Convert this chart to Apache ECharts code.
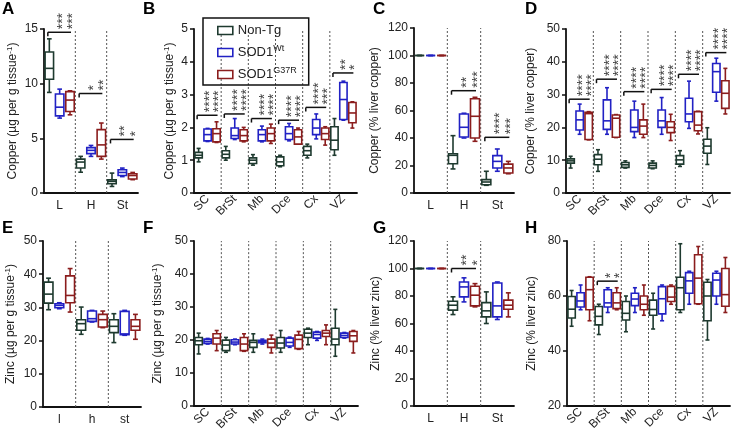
<!DOCTYPE html>
<html><head><meta charset="utf-8">
<script src="https://cdn.jsdelivr.net/npm/echarts@6/dist/echarts.min.js"></script>
<style>html,body{margin:0;padding:0;background:#fff}#c{width:733px;height:433px}</style>
</head><body><div id="c"></div>
<script>
// ---------- categories ----------
const catsLHSt = ['L', 'H', 'St'];
const catsRegions = ['SC', 'BrSt', 'Mb', 'Dce', 'Cx', 'VZ'];
const catsLower = ['l', 'h', 'st'];

// ---------- box data: [min, Q1, median, Q3, max] per category ----------
// A: Copper (µg per g tissue-1), peripheral
const A_nonTg = [[9.2,10.4,11.4,12.9,14.1],[1.9,2.28,2.83,3.1,3.35],[0.6,0.85,1.06,1.2,1.82]];
const A_wt    = [[6.85,7.05,7.85,9.05,9.5],[3.35,3.6,3.9,4.15,4.35],[1.5,1.6,1.88,2.13,2.28]];
const A_g37r  = [[7.15,7.45,8.5,9.27,9.35],[3.1,3.35,4.4,5.8,6.4],[1.22,1.28,1.6,1.76,1.88]];
const A_brackets = [[0,14.7,'***','***'],[1,9.1,'*','**'],[2,4.9,'**','*']];

// B: Copper (µg per g tissue-1), CNS
const B_nonTg = [[0.95,1.07,1.15,1.24,1.36],[1.0,1.07,1.18,1.29,1.42],[0.85,0.9,1.0,1.07,1.17],[0.8,0.83,0.95,1.1,1.15],[1.07,1.15,1.29,1.42,1.49],[1.15,1.32,1.61,2.02,2.27]];
const B_wt    = [[1.57,1.59,1.78,1.95,1.97],[1.63,1.66,1.75,1.98,2.27],[1.56,1.59,1.78,1.93,2.04],[1.59,1.63,1.81,2.02,2.12],[1.65,1.78,1.98,2.24,2.41],[2.22,2.24,2.85,3.37,3.41]];
const B_g37r  = [[1.54,1.56,1.81,1.96,2.17],[1.56,1.59,1.75,1.93,2.0],[1.51,1.59,1.81,1.98,2.1],[1.49,1.49,1.71,1.93,1.98],[1.46,1.63,1.81,1.98,2.02],[1.98,2.14,2.44,2.76,2.78]];
const B_brackets = [[0,2.37,'****','****'],[1,2.41,'****','****'],[2,2.27,'****','****'],[3,2.22,'****','****'],[4,2.61,'****','***'],[5,3.66,'**','*']];

// C: Copper (% liver copper)
const C_nonTg = [[100,100,100,100,100],[17.5,21.3,27.4,28.6,41.7],[5.6,6,8,9.7,15.8]];
const C_wt    = [[100,100,100,100,100],[40,40.7,47.8,57.5,58],[15.8,18.2,23,27.2,32]];
const C_g37r  = [[100,100,100,100,100],[37.6,40,55.8,68.6,69.6],[14,14.5,18.2,21,23]];
const C_brackets = [[1,74.4,'**','***'],[2,40.5,'****','***']];

// D: Copper (% liver copper), CNS
const D_nonTg = [[7.6,9.1,9.8,10.4,11.2],[6.6,8.6,10.3,11.7,13.2],[7.6,7.8,8.6,9.3,9.8],[7.4,7.6,8.4,9.1,9.8],[8.1,8.8,10.1,11.4,12.9],[8.7,12.1,14.3,16.4,19.9]];
const D_wt    = [[17.9,19.2,22.3,25.0,27.1],[17.9,19.4,22.0,28.4,32.1],[16.9,18.7,20.0,25.3,28.0],[17.9,20.0,22.0,25.3,29.1],[19.7,21.7,24.1,28.9,34.1],[28.0,30.7,37.0,39.5,41.1]];
const D_g37r  = [[16.2,16.3,24.2,24.6,24.8],[16.9,17.0,22.8,23.8,23.9],[16.9,17.9,20.4,22.3,27.1],[16.0,18.4,20.0,21.7,24.0],[18.0,19.0,20.7,24.8,24.9],[24.1,25.8,30.4,34.2,38.0]];
const D_brackets = [[0,28.6,'****','****'],[1,34.7,'****','****'],[2,30.9,'****','****'],[3,31.6,'****','****'],[4,36.2,'****','****'],[5,42.8,'****','****']];

// E: Zinc (µg per g tissue-1), peripheral
const E_nonTg = [[29.3,31.3,34,37.6,38.8],[21.9,23.1,25.1,26.3,30.1],[19.4,22.4,24.3,26.3,28.1]];
const E_wt    = [[29.6,29.9,30.6,31.1,31.4],[25.6,25.8,26.6,28.9,29.1],[21.6,21.8,22,28.8,29.1]];
const E_g37r  = [[28.6,31.4,33.6,39.5,41.7],[23.9,24.1,26.3,27.9,28.9],[20.4,23.1,24.3,26.3,27.9]];

// F: Zinc (µg per g tissue-1), CNS
const F_nonTg = [[15.8,18.6,19.8,20.8,22.1],[16.3,16.8,18.5,20,20.8],[16.3,17.8,19.3,19.9,21.9],[16.3,17.6,19.1,20.8,22.9],[18.6,20.8,22.1,23.3,23.6],[15.1,18.6,20.3,23.6,29.3]];
const F_wt    = [[18.8,19,19.6,20.3,20.5],[18.6,18.8,19.4,20.1,20.3],[18.8,19.2,19.6,19.9,20.3],[17.8,18.2,19.3,20.6,20.9],[19.9,20.6,21.7,22.4,22.6],[20.6,20.8,21.4,22.1,22.3]];
const F_g37r  = [[16.8,18.8,20.6,21.9,22.9],[16.6,16.8,18.8,20.8,21.9],[16.1,17.8,19.1,20.3,21.5],[17.2,17.4,20.2,21.5,22.6],[18.6,21.1,22.1,22.9,24.6],[16.1,19.6,21.3,22.6,22.9]];

// G: Zinc (% liver zinc)
const G_nonTg = [[100,100,100,100,100],[66.5,69.7,73.3,76.2,79.4],[60,64.8,69.2,75.2,83]];
const G_wt    = [[100,100,100,100,100],[75.7,79.4,86.6,90.2,93.2],[62.9,64.8,72.8,89.5,90.2]];
const G_g37r  = [[100,100,100,100,100],[72.1,72.8,80.6,87.1,89],[64.8,70.4,73.3,77,82.3]];
const G_brackets = [[1,100,'**','*']];

// H: Zinc (% liver zinc), CNS
const H_nonTg = [[49,52,55.2,59.8,62],[46,49.5,52.6,56.2,57],[47,51.3,53.7,58,60],[48,53,55.1,58.5,61],[54,55,63,66.8,79],[44,51,60,65,66]];
const H_wt    = [[55,56,58.2,61.2,64],[54,56,57.5,62.3,63],[54,56.5,58.9,61,63],[51,53.5,59,63.4,64],[57,61,65.5,68.5,69],[57,60,65.8,68.3,69]];
const H_g37r  = [[51,55,62.3,66.8,67],[55,55.4,57.5,61.2,63],[53,55,57,60,64],[57,58,59.6,63.5,64],[57,57.2,66.5,75,78],[54,56.3,60.5,70,74]];
const H_brackets = [[1,65.4,'*','*']];

// ---------- axis settings ----------
const yA = [0, 15, 5], yB = [0, 5, 1], yC = [0, 120, 20], yD = [0, 50, 10];
const yE = [0, 50, 10], yF = [0, 50, 10], yG = [0, 120, 20], yH = [20, 80, 20];
const nameCuUg = 'Copper (µg per g tissue{s|-1})';
const nameCuPct = 'Copper (% liver copper)';
const nameZnUg = 'Zinc (µg per g tissue{s|-1})';
const nameZnPct = 'Zinc (% liver zinc)';
const groupNames = ['Non-Tg', 'SOD1Wt', 'SOD1G37R'];

// ---------- styling / layout ----------
const FONT = "'Liberation Sans', Arial, Helvetica, sans-serif";
const COLORS = ['#1e3a2f', '#2121c4', '#8b1d1d'];
const OFF = 0.33, BOXW = 0.27;

const panels = [
  {letter:'A', L:[2,1],   g:[44,29,94,164],   cats:catsLHSt,    d:[A_nonTg,A_wt,A_g37r], br:A_brackets, y:yA, name:nameCuUg,  gap:24, rot:0},
  {letter:'B', L:[143,1], g:[194,29,163,164], cats:catsRegions, d:[B_nonTg,B_wt,B_g37r], br:B_brackets, y:yB, name:nameCuUg,  gap:17, rot:45},
  {letter:'C', L:[373,1], g:[414,28,100,165], cats:catsLHSt,    d:[C_nonTg,C_wt,C_g37r], br:C_brackets, y:yC, name:nameCuPct, gap:32, rot:0},
  {letter:'D', L:[525,1], g:[566,29,164,164], cats:catsRegions, d:[D_nonTg,D_wt,D_g37r], br:D_brackets, y:yD, name:nameCuPct, gap:28, rot:45},
  {letter:'E', L:[2,220], g:[43,241,98,166],  cats:catsLower,   d:[E_nonTg,E_wt,E_g37r], br:null,       y:yE, name:nameZnUg,  gap:25, rot:0},
  {letter:'F', L:[143,220], g:[194,241,164,166], cats:catsRegions, d:[F_nonTg,F_wt,F_g37r], br:null,    y:yF, name:nameZnUg,  gap:29, rot:45},
  {letter:'G', L:[373,220], g:[414,241,100,165], cats:catsLHSt,  d:[G_nonTg,G_wt,G_g37r], br:G_brackets, y:yG, name:nameZnPct, gap:31, rot:0},
  {letter:'H', L:[525,220], g:[567,241,163,165], cats:catsRegions, d:[H_nonTg,H_wt,H_g37r], br:H_brackets, y:yH, name:nameZnPct, gap:28, rot:45}
];

function boxRender(off, color) {
  return function (params, api) {
    const xi = api.value(0);
    const band = api.size([1, 0])[0];
    const cx = api.coord([xi, api.value(1)])[0] + off * band;
    const w = band * BOXW, cap = w * 0.55;
    const py = v => api.coord([xi, v])[1];
    const yMin = py(api.value(1)), yQ1 = py(api.value(2)), yMed = py(api.value(3)), yQ3 = py(api.value(4)), yMax = py(api.value(5));
    const st = {stroke: color, lineWidth: 1.6, fill: null};
    return {type: 'group', children: [
      {type: 'line', shape: {x1: cx, y1: yMax, x2: cx, y2: yQ3}, style: st},
      {type: 'line', shape: {x1: cx, y1: yQ1, x2: cx, y2: yMin}, style: st},
      {type: 'line', shape: {x1: cx - cap / 2, y1: yMax, x2: cx + cap / 2, y2: yMax}, style: st},
      {type: 'line', shape: {x1: cx - cap / 2, y1: yMin, x2: cx + cap / 2, y2: yMin}, style: st},
      {type: 'rect', shape: {x: cx - w / 2, y: yQ3, width: w, height: yQ1 - yQ3}, style: {stroke: color, lineWidth: 1.6, fill: '#fff'}},
      {type: 'line', shape: {x1: cx - w / 2, y1: yMed, x2: cx + w / 2, y2: yMed}, style: st}
    ]};
  };
}

function sepRender(params, api) {
  const i = api.value(0);
  const band = api.size([1, 0])[0];
  const p0 = api.coord([i, api.value(1)]);
  const p1 = api.coord([i, api.value(2)]);
  const x = p0[0] + band / 2;
  return {type: 'line', shape: {x1: x, y1: p0[1], x2: x, y2: p1[1]},
    style: {stroke: '#555', lineWidth: 1, lineDash: [2, 2]}};
}

function starText(x, y, s) {
  const fs = 14;
  return {type: 'text', x: x + 3, y: y, rotation: Math.PI / 2,
    style: {text: s, fill: '#444', font: fs + 'px ' + FONT,
      align: 'left', verticalAlign: 'middle', textAlign: 'left', textVerticalAlign: 'middle'}};
}

function bracketRender(brs) {
  return function (params, api) {
    const xi = api.value(0);
    const band = api.size([1, 0])[0];
    const p = api.coord([xi, api.value(1)]);
    const x0 = p[0] - OFF * band - 1.5, x1 = p[0] + OFF * band + 1;
    const y = p[1];
    const b = brs[params.dataIndex];
    return {type: 'group', children: [
      {type: 'line', shape: {x1: x0, y1: y, x2: x1, y2: y}, style: {stroke: '#111', lineWidth: 1.5}},
      {type: 'line', shape: {x1: x0, y1: y, x2: x0, y2: y + 4}, style: {stroke: '#111', lineWidth: 1.5}},
      starText(p[0], y - 3, b[2]),
      starText(p[0] + OFF * band, y - 3, b[3])
    ]};
  };
}

const grids = [], xAxes = [], yAxes = [], series = [], graphics = [];
const nameRich = {s: {fontSize: 8, lineHeight: 8, verticalAlign: 'top', color: '#222', fontFamily: FONT}};

panels.forEach((p, k) => {
  grids.push({left: p.g[0], top: p.g[1], width: p.g[2], height: p.g[3]});
  xAxes.push({type: 'category', gridIndex: k, data: p.cats, boundaryGap: true,
    axisLine: {lineStyle: {color: '#111', width: 1.8}}, axisTick: {show: false},
    axisLabel: {interval: 0, rotate: p.rot, margin: p.rot ? 4 : 7, fontSize: 12, color: '#222', fontFamily: FONT},
    splitLine: {show: false}});
  yAxes.push({type: 'value', gridIndex: k, min: p.y[0], max: p.y[1], interval: p.y[2],
    name: p.name, nameLocation: 'middle', nameGap: p.gap,
    nameTextStyle: {fontSize: 12, color: '#222', fontFamily: FONT, lineHeight: 14, rich: nameRich},
    axisLine: {show: true, lineStyle: {color: '#111', width: 1.8}},
    axisTick: {show: true, length: 4, lineStyle: {color: '#111', width: 1.5}},
    axisLabel: {margin: 6, fontSize: 12, color: '#222', fontFamily: FONT},
    splitLine: {show: false}});
  series.push({type: 'custom', xAxisIndex: k, yAxisIndex: k, silent: true, z: 1,
    renderItem: sepRender, data: p.cats.slice(1).map((c, i) => [i, p.y[0], p.y[1]]), encode: {x: 0, y: [1, 2]}});
  p.d.forEach((arr, gi) => {
    series.push({type: 'custom', name: groupNames[gi], xAxisIndex: k, yAxisIndex: k, z: 3,
      color: COLORS[gi], renderItem: boxRender((gi - 1) * OFF, COLORS[gi]),
      data: arr.map((v, i) => [i].concat(v)), encode: {x: 0, y: [1, 2, 3, 4, 5]}});
  });
  if (p.br) {
    const brs = p.br;
    series.push({type: 'custom', xAxisIndex: k, yAxisIndex: k, silent: true, z: 4,
      renderItem: bracketRender(brs), data: brs.map(b => [b[0], b[1]]), encode: {x: 0, y: 1}});
  }
  graphics.push({type: 'text', left: p.L[0], top: p.L[1],
    style: {text: p.letter, font: 'bold 17px ' + FONT, fill: '#000'}});
});

const chart = echarts.init(document.getElementById('c'), null, {renderer: 'canvas'});
chart.setOption({
  animation: false,
  backgroundColor: '#fff',
  grid: grids, xAxis: xAxes, yAxis: yAxes, series: series, graphic: graphics,
  legend: {
    left: 203, top: 18, orient: 'vertical',
    borderColor: '#111', borderWidth: 1.5, padding: [4, 12, 2, 14],
    itemGap: 5, itemWidth: 15, itemHeight: 8, itemTextGap: 12,
    data: groupNames.map((n, i) => ({name: n, icon: 'rect',
      itemStyle: {color: '#fff', borderColor: COLORS[i], borderWidth: 1.6}})),
    formatter: n => n === 'Non-Tg' ? '{b|Non-Tg}{s| }' : '{b|SOD1}{s|' + n.slice(4) + '}',
    textStyle: {fontSize: 13, color: '#222', fontFamily: FONT, lineHeight: 16,
      rich: {b: {fontSize: 13, lineHeight: 16, color: '#222', fontFamily: FONT},
             s: {fontSize: 9, lineHeight: 16, padding: [0, 0, 8, 0], color: '#222', fontFamily: FONT}}}
  }
});
</script></body></html>
